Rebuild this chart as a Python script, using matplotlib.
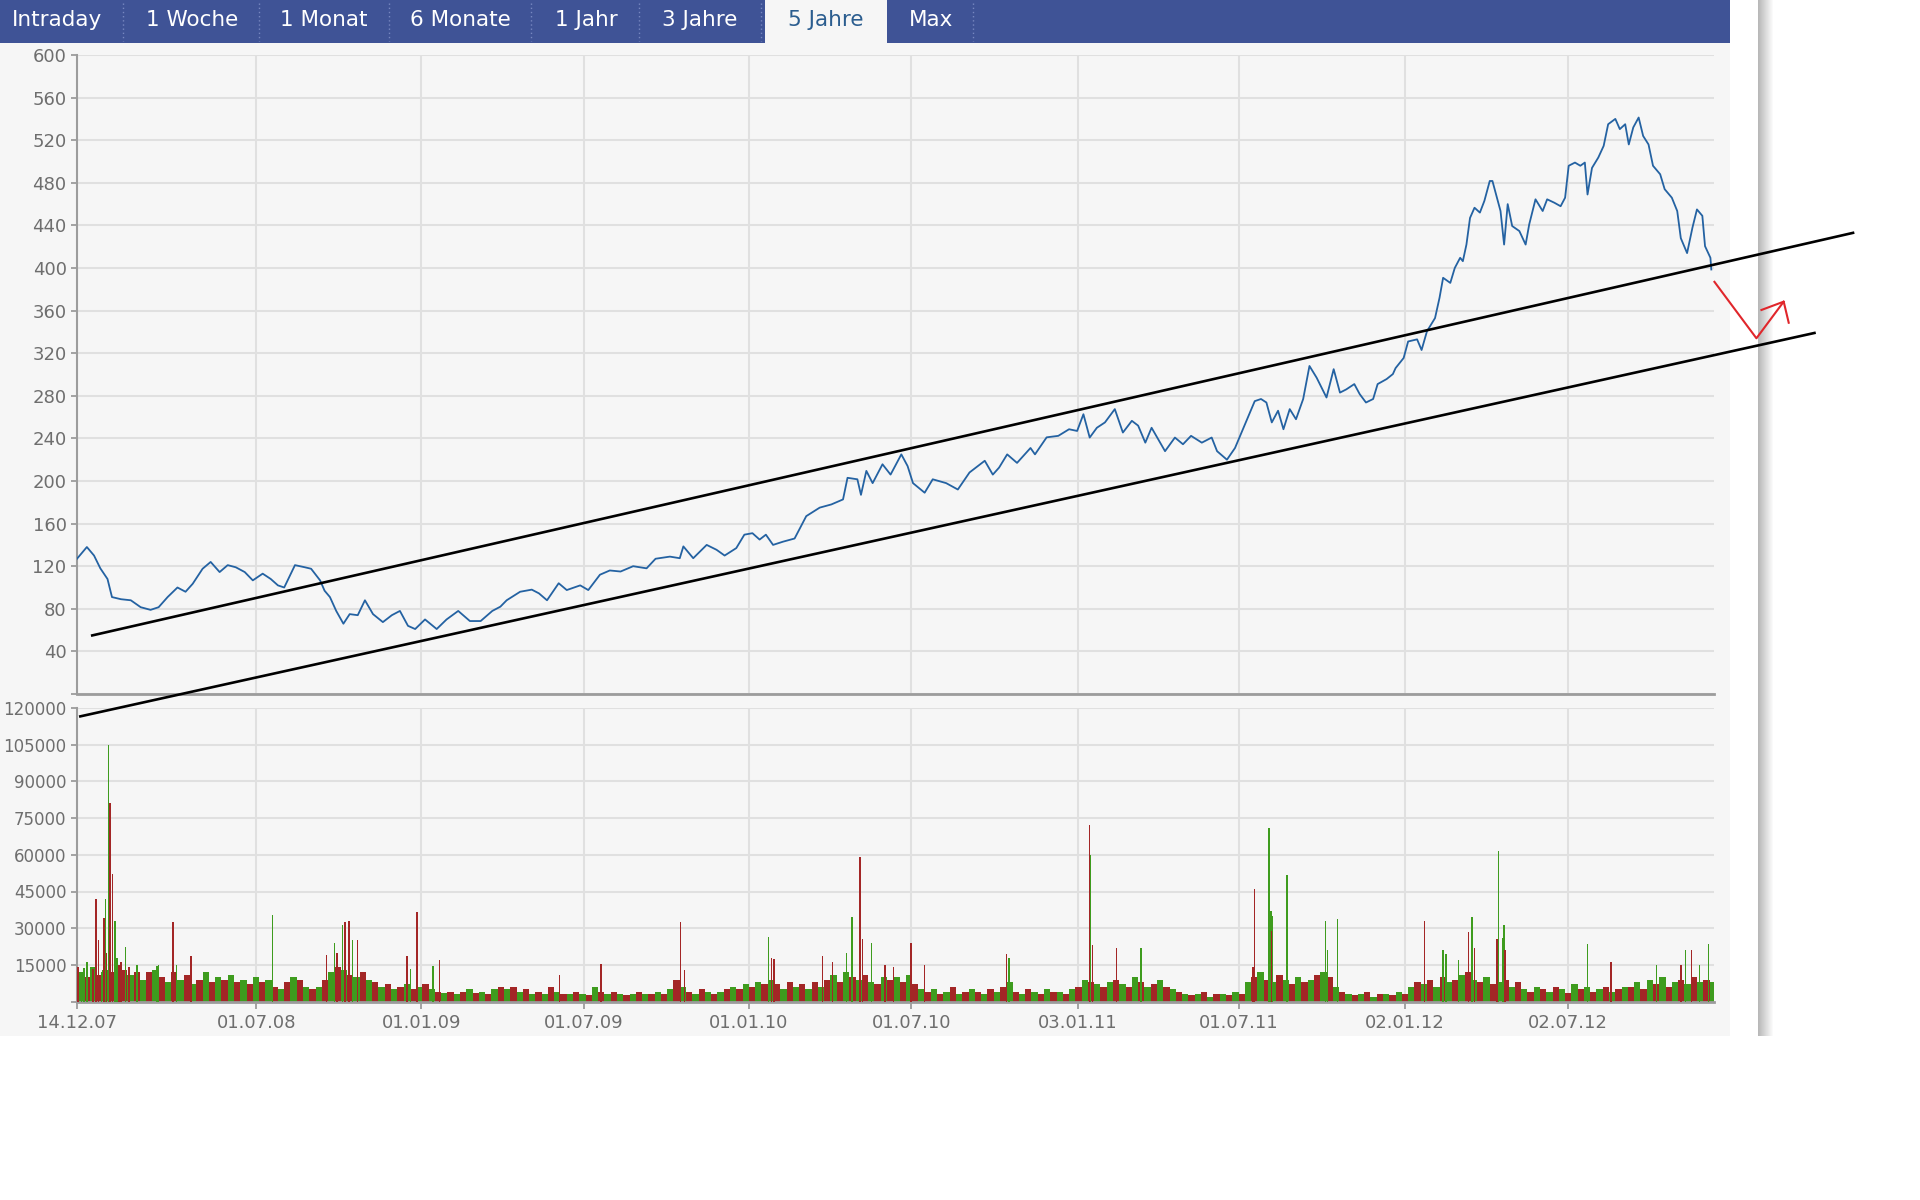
import numpy as np
import pandas as pd
import matplotlib
matplotlib.use("Agg")
import matplotlib.pyplot as plt
import matplotlib.dates as mdates
from matplotlib.patches import Rectangle
from matplotlib.lines import Line2D

# ---------------- data ----------------
START = "2007-12-14"

# price: days since start, value
price_day = [0, 11, 19, 26, 34, 39, 49, 60, 71, 82, 91, 101, 112, 121, 129, 140, 149, 159, 168, 177,
             187, 196, 207, 216, 224, 231, 243, 254, 261, 271, 276, 282, 289, 297, 304, 313, 321, 330, 341, 351,
             360, 369, 377, 388, 401, 412, 425, 438, 450, 463,
             472, 479, 494, 507, 515, 524, 537, 546, 561, 570, 583, 594, 606, 620, 635, 645, 661, 672, 676, 687,
             702, 713, 722, 735, 744, 753, 761, 768, 776, 787, 800, 813, 828, 841, 854, 859, 870, 874, 880, 887,
             898, 907, 919, 926, 932, 945, 954, 969, 982, 995, 1012, 1021, 1028,
             1037, 1048, 1063, 1068, 1081, 1094, 1106, 1115, 1122, 1129, 1137, 1146, 1157, 1166, 1176, 1183, 1191, 1198, 1213, 1224,
             1233, 1242, 1254, 1265, 1271, 1282, 1291, 1302, 1313, 1320, 1326, 1332, 1339, 1345, 1352, 1359, 1367, 1374, 1382, 1393,
             1401, 1408, 1415, 1424, 1430, 1437, 1445, 1450, 1460, 1467,
             1470, 1479, 1484, 1494, 1499, 1505, 1514, 1519, 1523, 1531, 1536, 1542, 1545, 1549, 1553, 1558, 1564, 1569, 1575, 1578,
             1584, 1587, 1591, 1595, 1600, 1608, 1615, 1619, 1626, 1634, 1639, 1647, 1654, 1659, 1663, 1670, 1676, 1681, 1684, 1689,
             1696, 1702, 1707, 1715, 1720, 1726, 1730, 1735, 1741, 1746, 1752, 1757, 1765, 1770, 1778, 1784, 1788, 1795, 1801, 1806,
             1812, 1815, 1821, 1822]
price_val = [127, 138, 130, 118, 108, 91, 89, 88, 81.5, 79, 81.5, 91, 100, 96, 103.5, 117.6, 124, 114.5, 121, 119,
             114.5, 106.7, 113, 108, 102, 100, 121, 119, 117.6, 106.7, 97, 91, 78, 66, 75, 74, 88, 75, 67.5, 74,
             78, 64, 61, 70, 61, 70, 78, 68.5, 68.5, 78,
             82, 88, 96, 98, 94.5, 88, 104, 97.6, 102, 97.6, 112, 116, 115, 120, 118, 127, 129, 127.5, 138.6, 127.5,
             140, 135.4, 130, 137, 149.6, 151, 145, 149.6, 140, 143, 146, 167, 175, 178, 182.7, 203, 201.6, 187, 209.5, 198,
             215.7, 206, 225, 214, 198, 189, 201.6, 198, 192, 208, 219, 206, 212.6,
             225, 217, 231, 225, 241, 242.4, 248.6, 247, 262.7, 240.8, 250, 255, 267.5, 245.5, 256.5, 252, 236, 250, 228, 240.8,
             234.5, 242.4, 236, 240.8, 228, 220, 231, 253, 275, 277, 273.7, 255, 266, 248.6, 267.5, 258, 277, 308, 297, 278.4,
             305, 283, 286, 291, 281.6, 273.7, 277, 291, 295.7, 300.4,
             306, 315.5, 331, 333, 323, 340.6, 353, 372, 390.8, 386, 400, 409.6, 406.4, 422, 447, 456.6, 452, 463, 481.7, 481.7,
             463, 453.5, 422, 460, 439.4, 434.7, 422, 441, 464.5, 453.5, 464.5, 461.3, 458, 466, 496, 499, 496, 499, 469, 494,
             503.7, 514.7, 535, 540, 530.4, 535, 516, 532, 541.3, 524, 516, 496, 488, 474, 466, 453.5, 428, 414, 438, 455,
             449, 420.5, 409.6, 398.6]

# weekly base volume (thousands), week i starts at day 7*i
vol_week_k = [12, 10, 14, 11, 13, 12, 10, 13, 11, 12, 9, 12, 13,
              10, 8, 12, 9, 11, 7, 9, 12, 8, 10, 9, 11, 8,
              9, 7, 10, 8, 9, 6, 5, 8, 10, 9, 6, 5, 6,
              9, 12, 14, 13, 11, 10, 12, 9, 8, 6, 7, 5, 6,
              7, 5, 6, 7, 5, 4, 3.5, 4, 3, 4, 5, 3.5, 4,
              3, 5, 6, 5, 6, 4, 5, 3, 4, 3, 6, 4, 3,
              3, 4, 3, 2.5, 6, 4, 3, 4, 3, 2.5, 3, 4, 3,
              3, 4, 3, 5, 9, 6, 4, 3, 5, 4, 3, 4, 5,
              6, 5, 7, 6, 8, 7, 9, 7, 5, 8, 6, 7, 5,
              8, 6, 9, 11, 8, 12, 10, 9, 11, 8, 7, 10, 9,
              10, 8, 11, 7, 5, 4, 5, 3, 4, 6, 3, 4, 5,
              4, 3, 5, 4, 6, 8, 4, 3, 5, 4, 3, 5, 4,
              4, 3, 5, 6, 9, 8, 7, 6, 8, 9, 7, 6, 10,
              8, 6, 7, 9, 6, 5, 4, 3, 2.5, 3, 4, 2, 3,
              3, 2.5, 4, 3, 8, 10, 12, 9, 8, 11, 9, 7, 10,
              8, 9, 11, 12, 10, 6, 4, 3, 2.5, 3, 4, 2, 3,
              3, 2.5, 4, 3, 6, 8, 7, 9, 6, 10, 8, 9, 11,
              12, 9, 8, 10, 7, 8, 9, 6, 8, 5, 4, 6, 5,
              4, 6, 5, 3.5, 7, 5, 6, 4, 5, 6, 4, 5, 6,
              6, 8, 5, 9, 7, 10, 6, 8, 9, 7, 10, 8, 9,
              8]

# individual high-volume days (days since start, thousands, r=down g=up)
spike_day = [1, 5, 8, 11, 18, 21, 24, 27, 30, 31.5, 33, 35, 37, 39.5, 42.5, 44.5, 47, 49, 54, 58,
             67, 89, 91, 107, 111, 127,
             218, 278, 287, 290, 296, 299, 303, 307, 313, 368, 372, 379, 397, 404, 538, 584, 673, 677, 771, 774,
             777, 831, 842, 858, 864, 873, 876, 886, 901, 910, 930, 945, 1036, 1039, 1129, 1130, 1132, 1159, 1186, 1311,
             1313, 1329, 1331, 1332, 1333, 1349, 1392, 1394, 1405, 1502, 1523, 1526, 1540, 1551, 1555, 1558, 1583, 1585,
             1589, 1591, 1592, 1684, 1710, 1761, 1788, 1793, 1800, 1809, 1819]
spike_k = [14, 9, 13.7, 16, 13.5, 42, 25, 12, 34, 42, 20, 105, 81, 52, 33, 18, 15, 16, 22.5, 14,
           15, 14.5, 15, 32.5, 15, 18.5,
           35.5, 19, 24, 20, 31.5, 32.5, 33, 25, 25, 18.5, 13.5, 36.5, 14.5, 17, 11, 15.3, 32.5, 13, 26.6, 17.8,
           17.5, 18.5, 16, 20, 34.7, 59.3, 25.6, 24, 15, 14, 24, 15, 19.3, 18, 72, 59.8, 23, 22, 22, 14,
           46, 71, 37, 29, 35, 51.7, 33, 21, 33.7, 33, 21, 19.5, 17, 28.3, 34.7, 22, 25.6, 61.4,
           26, 31.5, 21, 23.4, 16, 15, 15, 21, 21, 15, 23.4]
spike_col = ("rgggrrrgrgrgrrggrrgrgggrgr"
             "grgrgrrgrr" "grgrrrrrgr" "rrrggrrgrr" "rrrgrgrrgr" "rggrgggggr" "gggrgrrggg" "rgrgrgrgg")

tick_dates = ["2007-12-14", "2008-07-01", "2009-01-01", "2009-07-01", "2010-01-01",
              "2010-07-01", "2011-01-03", "2011-07-01", "2012-01-02", "2012-07-02"]
tick_labels = ["14.12.07", "01.07.08", "01.01.09", "01.07.09", "01.01.10",
               "01.07.10", "03.01.11", "01.07.11", "02.01.12", "02.07.12"]
price_ticks = list(range(40, 601, 40))
vol_ticks = list(range(15000, 120001, 15000))

tabs = ["Intraday", "1 Woche", "1 Monat", "6 Monate", "1 Jahr", "3 Jahre", "5 Jahre", "Max"]
active_tab = "5 Jahre"

# hand-drawn channel lines and arrow (days since start, price)
upper_day, upper_val = [17, 1980], [55, 433]
lower_day, lower_val = [3.7, 1937], [-21, 339]
arrow_day, arrow_val = [1825.5, 1872.3, 1902.7], [387, 334, 368.4]
head_day, head_val = [1877.9, 1902.7, 1908.3], [360.6, 368.4, 348.6]

# ---------------- styling ----------------
W, H = 1920, 1200
BG = "#f6f6f6"
GRID = "#e0e0e0"
SPINE = "#9c9c9c"
LABEL = "#6e6e6e"
GREEN = "#3e9c1e"
RED = "#a32626"

base = mdates.date2num(pd.Timestamp(START).to_pydatetime())
def dx(days):
    return base + np.asarray(days, dtype=float)

fig = plt.figure(figsize=(W / 100, H / 100), dpi=100)
fig.patch.set_facecolor("white")

def fx(px):
    return px / W
def fy(py):
    return 1 - py / H

def frect(x0, y0, x1, y1, color, z=-10):
    r = Rectangle((fx(x0), fy(y1)), (x1 - x0) / W, (y1 - y0) / H,
                  transform=fig.transFigure, facecolor=color, edgecolor="none", zorder=z)
    fig.add_artist(r)

# panel background, tab bar, shadow
frect(0, 43, 1730, 1036, BG)
frect(0, 0, 1730, 43, "#3f5396")
frect(765, 0, 887, 43, BG, z=-9)
for i, px in enumerate(range(1758, 1774)):
    g = 0.72 + 0.28 * i / 15
    frect(px, 0, px + 1, 1036, (g, g, g), z=-8)

sep_x = [123, 259, 389, 531, 639, 761, 973]
for sx in sep_x:
    fig.add_artist(Line2D([fx(sx), fx(sx)], [fy(3), fy(41)], transform=fig.transFigure,
                          color="#7787c0", lw=1, ls=(0, (1, 2)), zorder=-7))
tab_cx = [57, 192, 324, 460, 586, 700, 826, 931]
for t, cx in zip(tabs, tab_cx):
    fig.text(fx(cx), fy(20), t, ha="center", va="center", fontsize=15.5,
             color="#2b5d8f" if t == active_tab else "white", zorder=5)

# axes
ax_p = fig.add_axes([fx(77), fy(694), (1714 - 77) / W, (694 - 55) / H])
ax_v = fig.add_axes([fx(77), fy(1001.6), (1714 - 77) / W, (1001.6 - 708) / H])
ax_p.set_zorder(3)
ax_v.set_zorder(2)

tick_x = mdates.date2num(pd.to_datetime(tick_dates).to_pydatetime())
xmin, xmax = dx(0), dx(1825)

for ax in (ax_p, ax_v):
    ax.set_facecolor(BG)
    ax.set_xlim(xmin, xmax)
    ax.set_xticks(tick_x)
    ax.grid(True, color=GRID, lw=1.5)
    ax.set_axisbelow(True)
    for s in ("top", "right"):
        ax.spines[s].set_visible(False)
    ax.spines["left"].set_color(SPINE)
    ax.spines["left"].set_linewidth(1.5)
    ax.spines["bottom"].set_color(SPINE)
    ax.spines["bottom"].set_linewidth(2)
    ax.tick_params(axis="y", direction="out", length=4, width=1.3, color=SPINE,
                   pad=3.5, labelsize=13, labelcolor=LABEL)

# price panel
ax_p.set_ylim(0, 600)
ax_p.set_yticks([0] + price_ticks)
ax_p.set_yticklabels([""] + [str(v) for v in price_ticks])
ax_p.tick_params(axis="x", length=0, labelbottom=False)
ax_p.plot(dx(price_day), price_val, color="#2462a2", lw=1.3, zorder=3)

# channel annotation
ax_p.plot(dx(upper_day), upper_val, color="black", lw=1.9, clip_on=False, zorder=6)
ax_p.plot(dx(lower_day), lower_val, color="black", lw=1.9, clip_on=False, zorder=6)
ax_p.plot(dx(arrow_day), arrow_val, color="#e0262b", lw=1.5, clip_on=False, zorder=6)
ax_p.plot(dx(head_day), head_val, color="#e0262b", lw=1.5, clip_on=False, zorder=6)

# volume panel
ax_v.set_ylim(0, 120000)
ax_v.set_yticks([0] + vol_ticks)
ax_v.set_yticklabels([""] + [str(v) for v in vol_ticks])
ax_v.tick_params(axis="y", labelsize=12)
ax_v.set_xticklabels(tick_labels)
ax_v.tick_params(axis="x", direction="out", length=5, width=1.3, color=SPINE,
                 pad=4, labelsize=13, labelcolor=LABEL)

week_x = dx([7 * i + 3.5 for i in range(len(vol_week_k))])
week_c = [GREEN if i % 2 == 0 else RED for i in range(len(vol_week_k))]
ax_v.bar(week_x, np.array(vol_week_k) * 1000, width=7, color=week_c, lw=0, zorder=2)
sp_c = [GREEN if c == "g" else RED for c in spike_col]
ax_v.bar(dx(spike_day), np.array(spike_k) * 1000, width=1.6, color=sp_c, lw=0, zorder=3)

fig.savefig("out.png", dpi=100, facecolor="white")
